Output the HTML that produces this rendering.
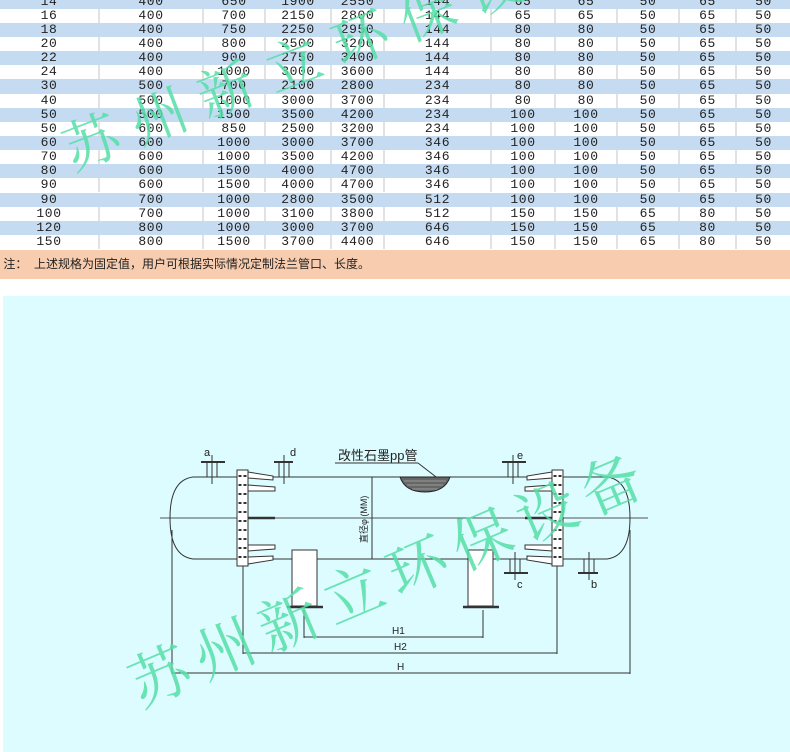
<!DOCTYPE html>
<html><head><meta charset="utf-8">
<style>
html,body{margin:0;padding:0;overflow:hidden;width:790px;height:752px;}
body{position:relative;background:#fff;font-family:"Liberation Mono",monospace;}
.r{position:absolute;left:0;width:790px;height:14.15px;display:flex;font-size:13px;line-height:14px;color:#222;letter-spacing:0.6px}
.r.b{background:#c4dbf1}
.r span{display:block;text-align:center;box-sizing:border-box;border-right:2px solid #e2e2e2;height:14px}
.r.b span{border-right-color:#c4dbf1}
.r span:nth-child(1){width:100px}.r span:nth-child(2){width:104px}.r span:nth-child(3){width:62px}
.r span:nth-child(4){width:66px}.r span:nth-child(5){width:53px}.r span:nth-child(6){width:107px}
.r span:nth-child(7){width:64px}.r span:nth-child(8){width:62px}.r span:nth-child(9){width:62px}
.r span:nth-child(10){width:57px}.r span:nth-child(11){width:53px;border:none}
#note{position:absolute;left:0;top:250px;width:790px;height:29px;background:#f8ccae;font-family:"Liberation Sans","Noto Sans CJK SC",sans-serif;font-size:12px;line-height:29px;color:#222;}
#cy{position:absolute;left:3px;top:296px;width:787px;height:456px;background:#dcfcff}
.wm{position:absolute;font-family:"Noto Serif CJK SC","Liberation Serif",serif;color:#55dfa6;opacity:.85;white-space:nowrap;transform-origin:0 0;}
</style></head><body>
<div class="r b" style="top:-5.5px"><span>14</span><span>400</span><span>650</span><span>1900</span><span>2550</span><span>144</span><span>65</span><span>65</span><span>50</span><span>65</span><span>50</span></div>
<div class="r" style="top:8.65px"><span>16</span><span>400</span><span>700</span><span>2150</span><span>2800</span><span>144</span><span>65</span><span>65</span><span>50</span><span>65</span><span>50</span></div>
<div class="r b" style="top:22.8px"><span>18</span><span>400</span><span>750</span><span>2250</span><span>2950</span><span>144</span><span>80</span><span>80</span><span>50</span><span>65</span><span>50</span></div>
<div class="r" style="top:36.95px"><span>20</span><span>400</span><span>800</span><span>2500</span><span>3200</span><span>144</span><span>80</span><span>80</span><span>50</span><span>65</span><span>50</span></div>
<div class="r b" style="top:51.1px"><span>22</span><span>400</span><span>900</span><span>2750</span><span>3400</span><span>144</span><span>80</span><span>80</span><span>50</span><span>65</span><span>50</span></div>
<div class="r" style="top:65.25px"><span>24</span><span>400</span><span>1000</span><span>3000</span><span>3600</span><span>144</span><span>80</span><span>80</span><span>50</span><span>65</span><span>50</span></div>
<div class="r b" style="top:79.4px"><span>30</span><span>500</span><span>700</span><span>2100</span><span>2800</span><span>234</span><span>80</span><span>80</span><span>50</span><span>65</span><span>50</span></div>
<div class="r" style="top:93.55px"><span>40</span><span>500</span><span>1000</span><span>3000</span><span>3700</span><span>234</span><span>80</span><span>80</span><span>50</span><span>65</span><span>50</span></div>
<div class="r b" style="top:107.7px"><span>50</span><span>500</span><span>1500</span><span>3500</span><span>4200</span><span>234</span><span>100</span><span>100</span><span>50</span><span>65</span><span>50</span></div>
<div class="r" style="top:121.85px"><span>50</span><span>600</span><span>850</span><span>2500</span><span>3200</span><span>234</span><span>100</span><span>100</span><span>50</span><span>65</span><span>50</span></div>
<div class="r b" style="top:136px"><span>60</span><span>600</span><span>1000</span><span>3000</span><span>3700</span><span>346</span><span>100</span><span>100</span><span>50</span><span>65</span><span>50</span></div>
<div class="r" style="top:150.15px"><span>70</span><span>600</span><span>1000</span><span>3500</span><span>4200</span><span>346</span><span>100</span><span>100</span><span>50</span><span>65</span><span>50</span></div>
<div class="r b" style="top:164.3px"><span>80</span><span>600</span><span>1500</span><span>4000</span><span>4700</span><span>346</span><span>100</span><span>100</span><span>50</span><span>65</span><span>50</span></div>
<div class="r" style="top:178.45px"><span>90</span><span>600</span><span>1500</span><span>4000</span><span>4700</span><span>346</span><span>100</span><span>100</span><span>50</span><span>65</span><span>50</span></div>
<div class="r b" style="top:192.6px"><span>90</span><span>700</span><span>1000</span><span>2800</span><span>3500</span><span>512</span><span>100</span><span>100</span><span>50</span><span>65</span><span>50</span></div>
<div class="r" style="top:206.75px"><span>100</span><span>700</span><span>1000</span><span>3100</span><span>3800</span><span>512</span><span>150</span><span>150</span><span>65</span><span>80</span><span>50</span></div>
<div class="r b" style="top:220.9px"><span>120</span><span>800</span><span>1000</span><span>3000</span><span>3700</span><span>646</span><span>150</span><span>150</span><span>65</span><span>80</span><span>50</span></div>
<div class="r" style="top:235.05px"><span>150</span><span>800</span><span>1500</span><span>3700</span><span>4400</span><span>646</span><span>150</span><span>150</span><span>65</span><span>80</span><span>50</span></div>
<div id="note">&nbsp;注：&nbsp;&nbsp;上述规格为固定值，用户可根据实际情况定制法兰管口、长度。</div>
<div id="cy"></div>
<svg style="position:absolute;left:0;top:0" width="790" height="752" viewBox="0 0 790 752" font-family="Liberation Sans, Noto Sans CJK SC, sans-serif">
<g stroke="#333" fill="none" stroke-width="1">
 <line x1="160" y1="518" x2="648" y2="518" stroke="#555"/>
 <path d="M193 477 H607 Q630 480 630 518 Q630 556 607 559 H193 Q170 556 170 518 Q170 480 193 477 Z"/>
 <rect x="237" y="470" width="11" height="96" fill="#fff"/>
 <rect x="552" y="470" width="11" height="96" fill="#fff"/>
 <line x1="240" y1="475" x2="240" y2="561" stroke-dasharray="2 7" stroke-width="3"/>
 <line x1="245" y1="475" x2="245" y2="561" stroke-dasharray="2 7" stroke-width="3"/>
 <line x1="555" y1="475" x2="555" y2="561" stroke-dasharray="2 7" stroke-width="3"/>
 <line x1="560" y1="475" x2="560" y2="561" stroke-dasharray="2 7" stroke-width="3"/>
 <path d="M248 472 L273 476 L273 480 L248 478Z M248 485 L275 487 L275 491 L248 491Z M248 545 L275 545 L275 549 L248 551Z M248 557 L273 556 L273 560 L248 564Z" fill="#fff"/>
 <path d="M552 472 L527 476 L527 480 L552 478Z M552 485 L525 487 L525 491 L552 491Z M552 545 L525 545 L525 549 L552 551Z M552 557 L527 556 L527 560 L552 564Z" fill="#fff"/>
 <line x1="248" y1="518" x2="275" y2="518" stroke-width="2.5"/>
 <line x1="525" y1="518" x2="552" y2="518" stroke-width="2.5"/>
 <rect x="207" y="462" width="10" height="15"/><line x1="201" y1="462" x2="225" y2="462" stroke-width="2"/><line x1="212" y1="455" x2="212" y2="484"/>
 <rect x="279" y="462" width="10" height="15"/><line x1="274" y1="462" x2="293" y2="462" stroke-width="2"/><line x1="284" y1="455" x2="284" y2="484"/>
 <rect x="508" y="462" width="10" height="15"/><line x1="502" y1="462" x2="526" y2="462" stroke-width="2"/><line x1="513" y1="455" x2="513" y2="484"/>
 <rect x="510" y="559" width="10" height="14"/><line x1="504" y1="573" x2="528" y2="573" stroke-width="2"/><line x1="515" y1="552" x2="515" y2="580"/>
 <rect x="584" y="559" width="10" height="14"/><line x1="578" y1="573" x2="598" y2="573" stroke-width="2"/><line x1="589" y1="552" x2="589" y2="580"/>
 <rect x="292" y="550" width="25" height="56" fill="#fff"/><line x1="287" y1="607" x2="323" y2="607" stroke-width="2.5"/>
 <rect x="468" y="550" width="25" height="56" fill="#fff"/><line x1="463" y1="607" x2="499" y2="607" stroke-width="2.5"/>
 <line x1="372" y1="477" x2="372" y2="559"/>
 <line x1="335" y1="463" x2="418" y2="463"/><line x1="418" y1="463" x2="440" y2="480"/>
 <line x1="304" y1="610" x2="304" y2="638"/><line x1="483" y1="610" x2="483" y2="638"/><line x1="304" y1="637" x2="483" y2="637"/>
 <line x1="243" y1="566" x2="243" y2="654"/><line x1="557" y1="566" x2="557" y2="654"/><line x1="243" y1="653" x2="557" y2="653"/>
 <line x1="172" y1="530" x2="172" y2="674"/><line x1="630" y1="530" x2="630" y2="674"/><line x1="172" y1="673" x2="630" y2="673"/>
</g>
<path d="M400 477 Q405 492 425 492 Q445 492 450 477 Z" fill="#666" stroke="#222"/>
<g stroke="#ccc" stroke-width="0.6"><line x1="404" y1="481" x2="446" y2="481"/><line x1="407" y1="485" x2="443" y2="485"/><line x1="412" y1="489" x2="438" y2="489"/></g>
<g font-size="11" fill="#222">
 <text x="204" y="456">a</text><text x="290" y="456">d</text><text x="517" y="459">e</text>
 <text x="517" y="588">c</text><text x="591" y="588">b</text>
 <text x="338" y="460" font-size="13">改性石墨pp管</text>
 <text x="392" y="634" font-size="10">H1</text><text x="394" y="650" font-size="10">H2</text><text x="397" y="670" font-size="10">H</text>
 <text transform="translate(367,543) rotate(-90)" font-size="9">直径φ (MM)</text>
</g>
</svg>
<div class="wm" style="left:50px;top:112px;font-size:56px;letter-spacing:16px;transform:rotate(-21deg);">苏州新立环保设备</div>
<div class="wm" style="left:114px;top:645px;font-size:60px;letter-spacing:10px;transform:rotate(-23deg);">苏州新立环保设备</div>
</body></html>
